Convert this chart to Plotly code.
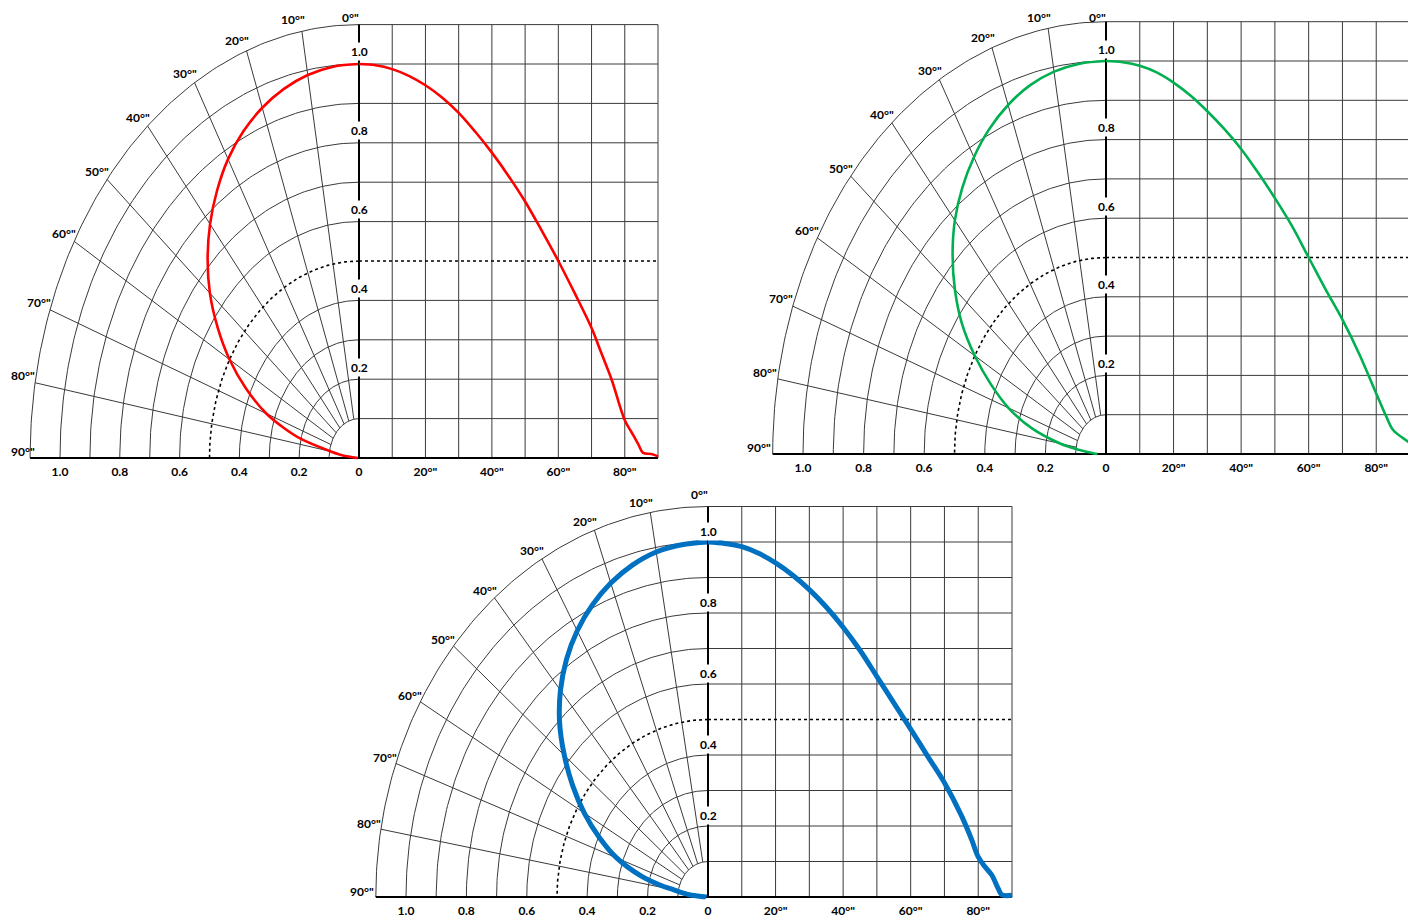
import numpy as np
import plotly.graph_objects as go

W, H = 1416, 916
OFF = 8  # margen del body en la página

# Intensidad relativa vs ángulo (grados)
red_angles = [0, 5, 10, 15, 20, 25, 30, 35, 40, 45, 50, 55, 60, 65, 70, 73, 76, 80, 82, 84, 85.5, 88, 90]
red_int = [1.0, 0.997, 0.987, 0.97, 0.946, 0.915, 0.876, 0.828, 0.775, 0.716, 0.651, 0.577,
           0.5, 0.417, 0.33, 0.265, 0.2, 0.096, 0.066, 0.036, 0.013, 0.01, 0.004]
green_angles = [0, 5, 10, 15, 20, 25, 30, 35, 40, 45, 50, 55, 60, 65, 70, 75, 80, 83, 85, 88, 90]
green_int = [1.0, 0.997, 0.988, 0.971, 0.945, 0.912, 0.872, 0.827, 0.776, 0.716, 0.651, 0.581,
             0.5, 0.419, 0.342, 0.254, 0.154, 0.095, 0.061, 0.04, 0.028]
blue_angles = [0, 5, 10, 15, 20, 25, 30, 35, 40, 45, 50, 55, 60, 65, 70, 75, 78, 80, 82, 84, 86, 87, 90]
blue_int = [1.0, 0.996, 0.987, 0.968, 0.941, 0.907, 0.866, 0.817, 0.76, 0.695, 0.621, 0.547,
            0.473, 0.397, 0.322, 0.23, 0.163, 0.113, 0.085, 0.062, 0.022, 0.006, 0.005]

# Rejilla y etiquetas
grid_radii = [0.1, 0.2, 0.3, 0.4, 0.6, 0.7, 0.8, 0.9, 1.0, 1.1]
dotted_radius = 0.5
ray_angles = [10, 20, 30, 40, 50, 60, 70, 80]
deg_grid = [10, 20, 30, 40, 50, 60, 70, 80, 90]
label_angles = [0, 10, 20, 30, 40, 50, 60, 70, 80, 90]
label_text = ['%d°"' % a for a in label_angles]
r_ticks = [-1.0, -0.8, -0.6, -0.4, -0.2, 0]
r_ticktext = ['1.0', '0.8', '0.6', '0.4', '0.2', '0']
deg_ticks = [20, 40, 60, 80]
deg_ticktext = ['20°"', '40°"', '60°"', '80°"']
y_labels = [1.0, 0.8, 0.6, 0.4, 0.2]

# Posición de cada panel en pixeles de pantalla: centro, escalas
panels = [
    dict(cx=359, cy=458, sx=299, sd=299 / 90, sy=394, color='#FF0000', width=2.6,
         ang=red_angles, data=red_int, yshift=12),
    dict(cx=1106, cy=454, sx=303, sd=304 / 90, sy=393, color='#00B050', width=2.6,
         ang=green_angles, data=green_int, yshift=12),
    dict(cx=708, cy=897, sx=302, sd=304 / 90, sy=355, color='#0070C0', width=5,
         ang=blue_angles, data=blue_int, yshift=11),
]

PAD = 5
FONT = dict(family='Lato, Arial', size=12, color='black', weight='bold')
GRID = '#3a3a3a'

fig = go.Figure()
layout = {}
annotations = []


def arc(r, n=120):
    t = np.radians(np.linspace(0, 90, n))
    return list(-r * np.sin(t)), list(r * np.cos(t))


for i, p in enumerate(panels):
    xl = 'x' if i == 0 else 'x%d' % (2 * i + 1)
    xr = 'x%d' % (2 * i + 2)
    yy = 'y' if i == 0 else 'y%d' % (i + 1)
    kxl = 'xaxis' if i == 0 else 'xaxis%d' % (2 * i + 1)
    kxr = 'xaxis%d' % (2 * i + 2)
    kyy = 'yaxis' if i == 0 else 'yaxis%d' % (i + 1)
    cx, cy, sx, sd, sy = p['cx'] - OFF, p['cy'] - OFF, p['sx'], p['sd'], p['sy']

    left_px = [cx - 1.1 * sx - PAD, cx + PAD]
    right_px = [cx - PAD, cx + 90 * sd + PAD]
    y_px = [cy - 1.1 * sy - PAD, cy + PAD]
    xl_range = [-1.1 - PAD / sx, PAD / sx]
    y_range = [-PAD / sy, 1.1 + PAD / sy]

    axis_common = dict(showgrid=False, zeroline=False, showline=False, ticks='',
                       tickfont=FONT, anchor=yy, fixedrange=True)
    layout[kxl] = dict(axis_common, domain=[left_px[0] / W, left_px[1] / W], range=xl_range,
                       tickmode='array', tickvals=r_ticks, ticktext=r_ticktext)
    layout[kxr] = dict(axis_common, domain=[right_px[0] / W, right_px[1] / W],
                       range=[-PAD / sd, 90 + PAD / sd],
                       tickmode='array', tickvals=deg_ticks, ticktext=deg_ticktext)
    layout[kyy] = dict(domain=[1 - y_px[1] / H, 1 - y_px[0] / H], range=y_range,
                       visible=False, anchor=xl, fixedrange=True)

    # rejilla polar (lado izquierdo)
    gx, gy = [], []
    for r in grid_radii:
        ax_, ay_ = arc(r)
        gx += ax_ + [None]
        gy += ay_ + [None]
    for a in ray_angles:
        t = np.radians(a)
        gx += [-0.1 * np.sin(t), -1.1 * np.sin(t), None]
        gy += [0.1 * np.cos(t), 1.1 * np.cos(t), None]
    fig.add_trace(go.Scatter(x=gx, y=gy, xaxis=xl, yaxis=yy, mode='lines',
                             line=dict(color=GRID, width=1), hoverinfo='skip'))
    dx, dy = arc(dotted_radius)
    fig.add_trace(go.Scatter(x=dx, y=dy, xaxis=xl, yaxis=yy, mode='lines',
                             line=dict(color='black', width=1.6, dash='dot'), hoverinfo='skip'))

    # rejilla cartesiana (lado derecho)
    hx, hy = [], []
    for r in grid_radii:
        hx += [0, 90, None]
        hy += [r, r, None]
    for d in deg_grid:
        hx += [d, d, None]
        hy += [0, 1.1, None]
    fig.add_trace(go.Scatter(x=hx, y=hy, xaxis=xr, yaxis=yy, mode='lines',
                             line=dict(color=GRID, width=1), hoverinfo='skip'))
    fig.add_trace(go.Scatter(x=[0, 90], y=[dotted_radius, dotted_radius], xaxis=xr, yaxis=yy,
                             mode='lines', line=dict(color='black', width=1.6, dash='dot'),
                             hoverinfo='skip'))

    # ejes principales
    fig.add_trace(go.Scatter(x=[-1.1, 0], y=[0, 0], xaxis=xl, yaxis=yy, mode='lines',
                             line=dict(color='black', width=2), hoverinfo='skip'))
    fig.add_trace(go.Scatter(x=[0, 90], y=[0, 0], xaxis=xr, yaxis=yy, mode='lines',
                             line=dict(color='black', width=2), hoverinfo='skip'))
    fig.add_trace(go.Scatter(x=[0, 0], y=[0, 1.1], xaxis=xr, yaxis=yy, mode='lines',
                             line=dict(color='black', width=2), hoverinfo='skip'))

    # curva de intensidad
    th = np.radians(p['ang'])
    vals = np.array(p['data'])
    fig.add_trace(go.Scatter(x=list(-vals * np.sin(th)), y=list(vals * np.cos(th)),
                             xaxis=xl, yaxis=yy, mode='lines',
                             line=dict(color=p['color'], width=p['width'], shape='spline', smoothing=1),
                             hoverinfo='skip'))
    fig.add_trace(go.Scatter(x=p['ang'], y=p['data'], xaxis=xr, yaxis=yy, mode='lines',
                             line=dict(color=p['color'], width=p['width'], shape='spline', smoothing=1),
                             hoverinfo='skip'))

    # etiquetas de ángulo (en fracción del dominio de los ejes para que no se oculten)
    t = np.radians(0.97 * np.array(label_angles) + 1.4)
    lx = -1.145 * np.sin(t)
    ly = 1.145 * np.cos(t)
    for x_, y_, txt in zip(lx, ly, label_text):
        # que no se salga del borde de la figura
        px_x = cx + x_ * sx
        px_y = cy - y_ * sy + 4
        xs = max(0, 15 - px_x)
        ys = -4 - max(0, 9 - px_y)
        annotations.append(dict(x=(x_ - xl_range[0]) / (xl_range[1] - xl_range[0]),
                                y=(y_ - y_range[0]) / (y_range[1] - y_range[0]),
                                xref=xl + ' domain', yref=yy + ' domain',
                                xanchor='center', yanchor='middle', xshift=xs, yshift=ys,
                                text=txt, showarrow=False, font=FONT))
    # etiquetas del eje vertical
    for v in y_labels:
        annotations.append(dict(x=0, y=v, xref=xr, yref=yy, yshift=p['yshift'],
                                text='%.1f' % v, showarrow=False, font=FONT,
                                bgcolor='white', borderpad=1))

fig.update_layout(**layout)
fig.update_layout(width=W, height=H, margin=dict(l=0, r=0, t=0, b=0),
                  paper_bgcolor='white', plot_bgcolor='rgba(0,0,0,0)',
                  showlegend=False, annotations=annotations)

fig.write_html("out.html")
